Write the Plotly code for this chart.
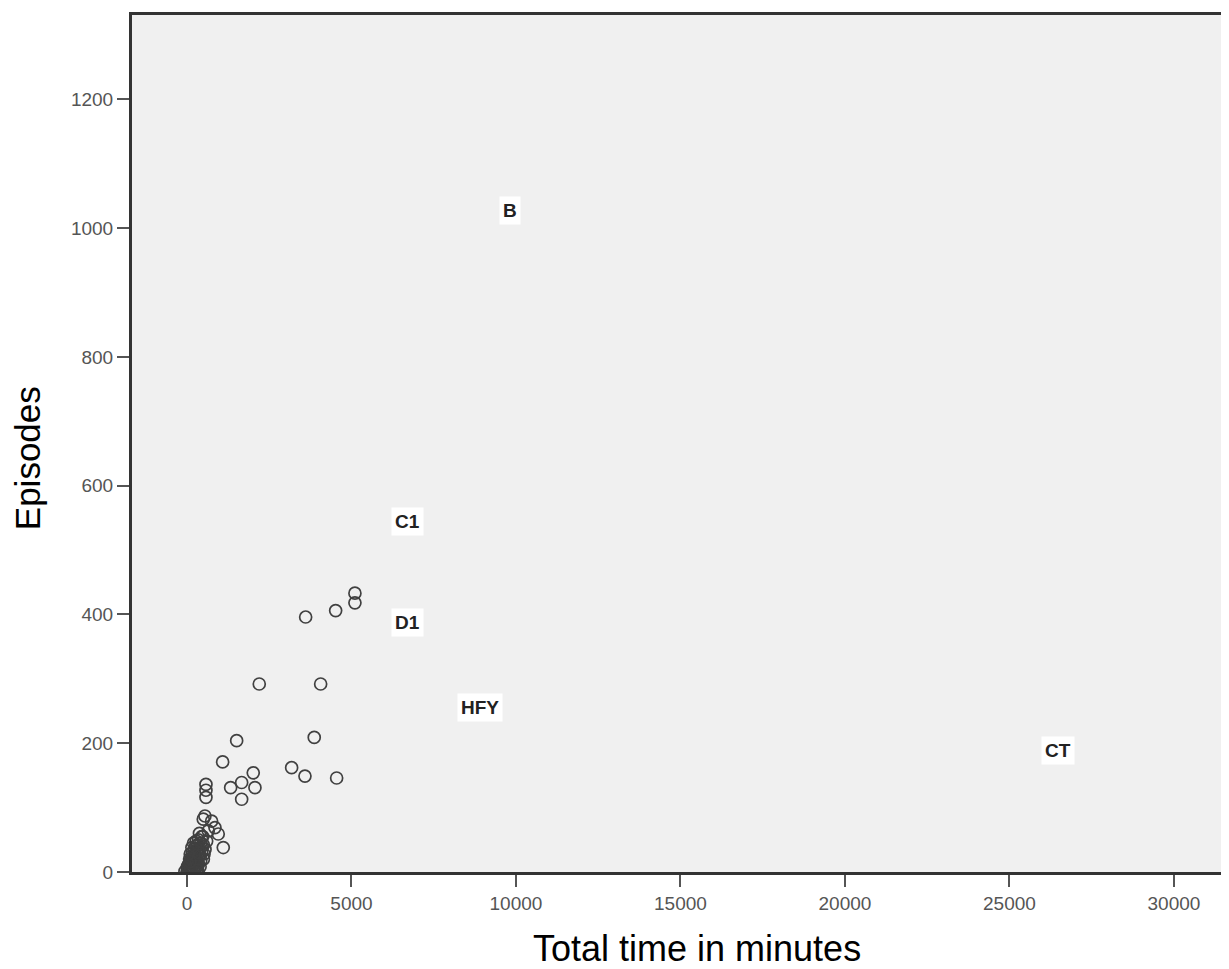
import plotly.graph_objects as go

# Scatter points: total time in minutes vs episodes
time_minutes = [
    3608, 4520, 5106, 5106, 2198, 4064, 1511, 3869, 1085, 3182, 3587, 4550,
    578, 578, 578, 1328, 1663, 2015, 2067, 1663,
    547, 496, 750, 851, 951, 648, 1104,
    0, 30, 60, 100, 150, 200, 250, 300, 350, 50, 120, 180, 240, 300, 360, 420,
    100, 160, 230, 300, 380, 450, 200, 280, 350, 420, 500, 480, 550, 10, 80,
    400, 500, 600, 320, 260, 450, 380, 520,
    -60, 20, 70, 90, 140, 170, 210, 230, 270, 330, 40, 110, 190, 280, 340,
    130, 210, 260, 310, 400, 460, 150, 330, 90, 370,
]
episodes = [
    396, 406, 433, 418, 292, 292, 204, 209, 171, 162, 149, 146,
    136, 127, 116, 131, 139, 154, 131, 113,
    87, 82, 79, 69, 59, 64, 38,
    0, 2, 5, 3, 8, 6, 10, 4, 12, 12, 15, 18, 22, 20, 25, 18,
    28, 30, 35, 32, 38, 30, 45, 48, 50, 45, 42, 55, 35, 8, 20,
    8, 20, 48, 42, 14, 55, 60, 28,
    1, 6, 1, 9, 2, 12, 3, 16, 6, 16, 4, 7, 24, 14, 35,
    20, 27, 40, 10, 26, 40, 38, 3, 16, 30,
]

# Point labels
label_text = ["B", "C1", "D1", "HFY", "CT"]
label_x = [9818, 6717, 6717, 8906, 26474]
label_y = [1028, 545, 387, 256, 189]

x_ticks = [0, 5000, 10000, 15000, 20000, 25000, 30000]
y_ticks = [0, 200, 400, 600, 800, 1000, 1200]

fig = go.Figure()
fig.add_trace(go.Scatter(
    x=time_minutes, y=episodes, mode="markers",
    marker=dict(symbol="circle-open", size=12, color="#404040",
                line=dict(width=1.7, color="#404040")),
    showlegend=False, hoverinfo="skip",
))

annotations = []
for t, lx, ly in zip(label_text, label_x, label_y):
    annotations.append(dict(
        x=lx, y=ly, xref="x", yref="y", text="<b>" + t + "</b>", showarrow=False,
        font=dict(family="Liberation Sans, Arial", size=19, color="#222222"),
        bgcolor="white", borderpad=3,
    ))

annotations.append(dict(
    xref="paper", yref="paper", x=0.515, y=-0.089, yanchor="middle",
    text="Total time in minutes", showarrow=False,
    font=dict(family="Liberation Sans, Arial", size=36, color="#000000"),
))
annotations.append(dict(
    xref="paper", yref="paper", x=-0.095, y=0.4826, xanchor="center", yanchor="middle",
    text="Episodes", showarrow=False, textangle=-90,
    font=dict(family="Liberation Sans, Arial", size=35, color="#000000"),
))

fig.update_layout(
    width=1229, height=969,
    margin=dict(l=124, r=8, t=4, b=105),
    paper_bgcolor="white", plot_bgcolor="#f0f0f0",
    annotations=annotations,
    xaxis=dict(
        range=[-1670, 31673], tickvals=x_ticks, ticktext=[str(v) for v in x_ticks],
        showgrid=False, zeroline=False, showline=True, linecolor="#333333",
        linewidth=3, mirror=True, ticks="outside", ticklen=12, tickwidth=1.5,
        tickcolor="#555555",
        tickfont=dict(family="Liberation Sans, Arial", size=19, color="#555555"),
    ),
    yaxis=dict(
        range=[0, 1331], tickvals=y_ticks, ticktext=[str(v) for v in y_ticks],
        showgrid=False, zeroline=False, showline=True, linecolor="#333333",
        linewidth=3, mirror=False, ticks="outside", ticklen=12, tickwidth=1.5,
        tickcolor="#555555",
        tickfont=dict(family="Liberation Sans, Arial", size=19, color="#555555"),
    ),
)

fig.write_html("out.html")
